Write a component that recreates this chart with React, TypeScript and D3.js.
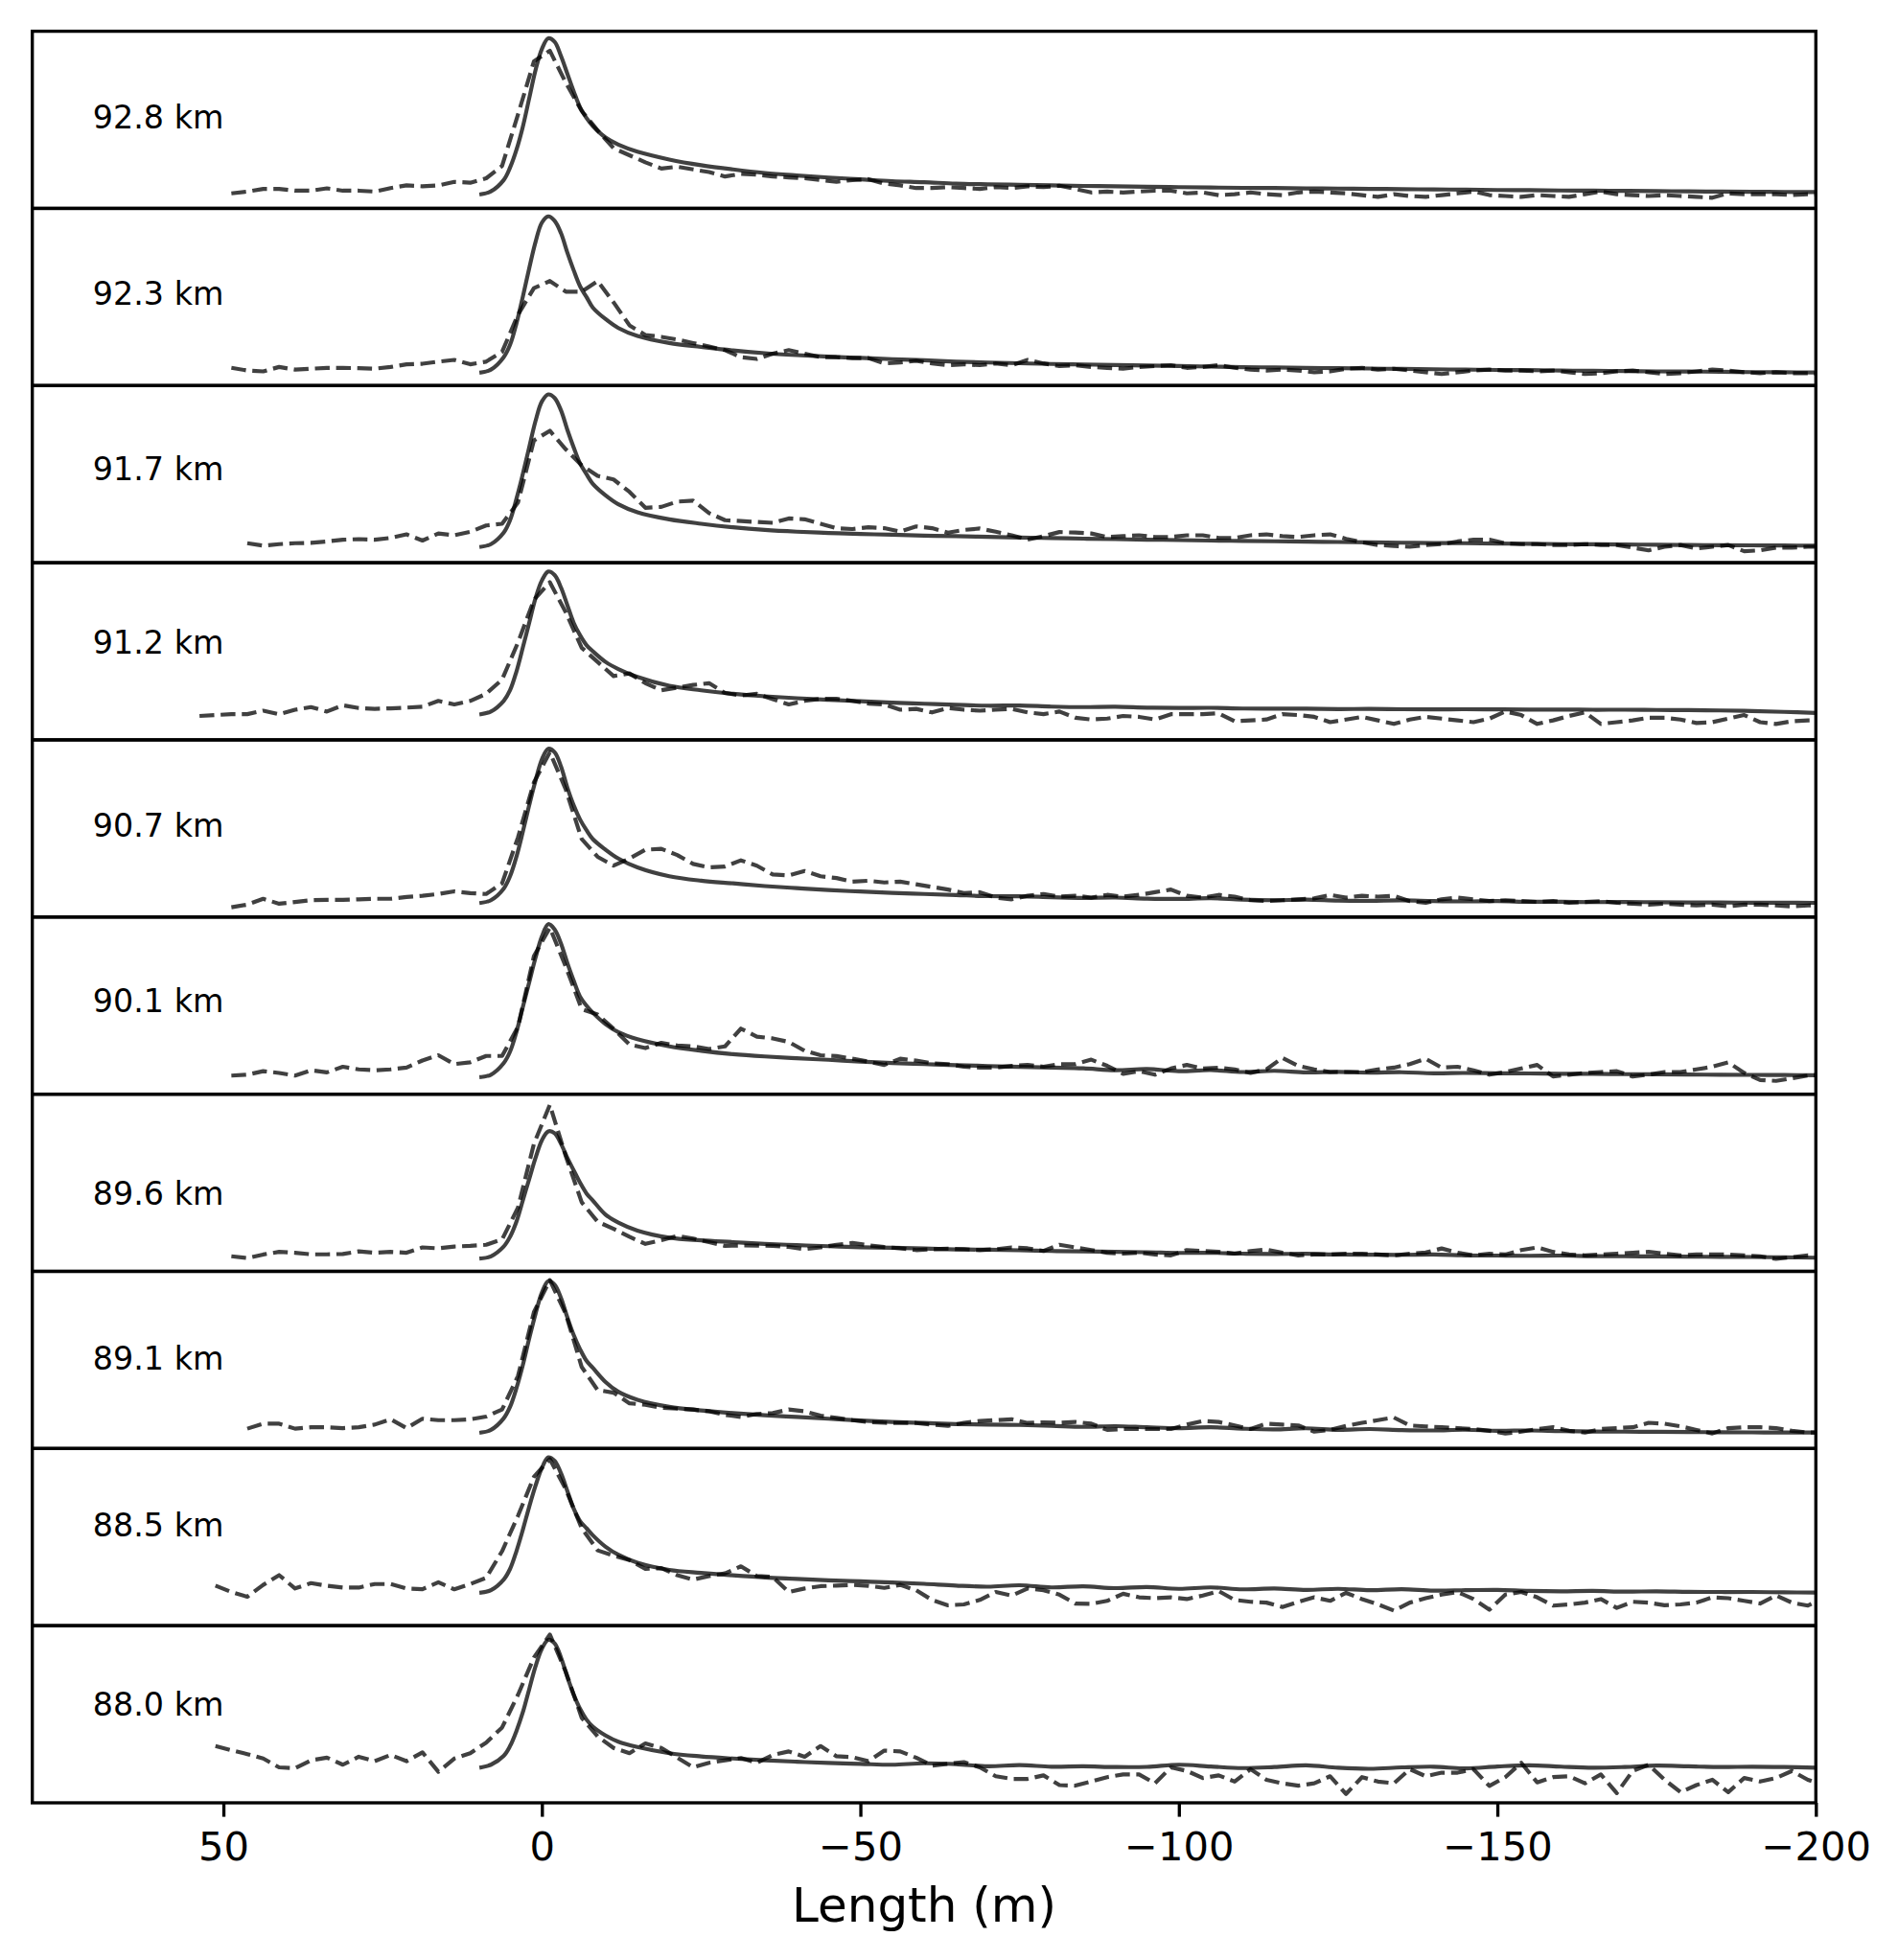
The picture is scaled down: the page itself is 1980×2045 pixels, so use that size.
import * as d3 from "d3";
import {useRef, useEffect} from "react";

// altitude of each profile, top to bottom
const altitudes = ["92.8 km", "92.3 km", "91.7 km", "91.2 km", "90.7 km", "90.1 km", "89.6 km", "89.1 km", "88.5 km", "88.0 km"];
// data-space height of the altitude annotation (relative intensity, %)
const labelLevel = [45.4, 45.4, 46.4, 48.9, 45.6, 46.4, 37.4, 44.4, 50.4, 49.4];
const labelX = 70.5;
const xTicks = [50, 0, -50, -100, -150, -200];

// model (solid) sampled positions, metres
const modelX = [9.5, 8, 6, 5, 4, 3, 2, 1, 0, -1, -2, -3, -4, -5, -6, -7, -8, -10, -12, -15]
    .concat(d3.range(-20, -201, -5));
// observed (dashed) sampled positions, metres
const obsX = d3.range(53.75, -202, -2.5);

const model928 = [8, 9.6, 16, 23, 33, 46, 62, 78, 90, 96, 94, 86, 76, 66, 57, 51, 46.5, 40, 36, 32,
    27.6, 24.4, 22, 20, 18.6, 17.4, 16.4, 15.4, 14.8, 14,
    13.6, 13.3, 13, 12.7, 12.5, 12.2, 12, 11.8, 11.6, 11.5,
    11.3, 11.2, 11, 10.9, 10.7, 10.6, 10.4, 10.3, 10.1, 10,
    9.9, 9.8, 9.6, 9.5, 9.4, 9.3, 9.2];
const model923 = [7.4, 9, 16, 23, 35, 50, 66, 81, 92, 95.5, 93, 86, 75, 65, 56, 50, 44, 37.5, 32.5, 28,
    24, 21.8, 19.8, 18.3, 17.2, 16.3, 15.6, 14.9, 14.3, 13.5,
    13, 12.6, 12.2, 11.9, 11.6, 11.3, 11, 10.7, 10.4, 10.2,
    10, 9.8, 9.6, 9.4, 9.2, 9, 8.8, 8.7, 8.5, 8.3,
    8.2, 8, 7.9, 7.8, 7.6, 7.5, 7.4];
const model917 = [9, 10.5, 17, 24, 36, 50, 65, 80, 91, 95, 93, 86, 75, 65, 56, 50, 44.5, 38, 33, 28.5,
    24.5, 22, 20, 18.5, 17.5, 16.8, 16.2, 15.8, 15.3, 15,
    14.6, 14.2, 13.9, 13.6, 13.3, 13, 12.8, 12.5, 12.3, 12.1,
    11.9, 11.7, 11.5, 11.3, 11.1, 11, 10.8, 10.7, 10.5, 10.4,
    10.3, 10.1, 10, 9.9, 9.8, 9.7, 9.6];
const model912 = [14.5, 16, 22, 28, 38.5, 52, 66, 80, 90, 95, 93, 86, 76, 66, 59, 53.5, 50, 44, 40, 35.5,
    30.5, 28, 26, 24.6, 23.5, 22.6, 21.8, 21, 20.4, 19.8,
    19.3, 19.4, 18.8, 18.5, 18.7, 18.2, 18, 18.1, 17.7, 17.6,
    17.6, 17.4, 17.5, 17.3, 17.2, 17.3, 17.2, 17.1, 17.1, 17,
    17, 16.9, 16.8, 16.6, 16.3, 15.8, 15.2];
const model907 = [8, 9.5, 16, 23, 34, 48, 63, 77, 89, 95, 93, 85, 73, 63, 55, 49, 44, 38, 33, 28,
    23, 20.5, 19, 17.5, 16.3, 15.2, 14.4, 13.6, 13, 12.4,
    11.8, 11.7, 11.2, 10.8, 11, 10.4, 10.2, 10.6, 9.8, 9.5,
    9.8, 9.3, 9.2, 9.4, 9, 8.8, 9, 8.6, 8.6, 8.4,
    8.5, 8.3, 8.2, 8.2, 8.1, 8.1, 8];
const model901 = [9.7, 11, 17.5, 24, 35, 49, 63, 77, 89, 96, 93, 85, 74, 64, 55, 50, 46, 39.5, 35, 31,
    27, 24.5, 22.6, 21.3, 20.3, 19.4, 18.4, 17.6, 17, 16.4,
    15.9, 15.4, 15, 14.6, 13.5, 14.2, 13, 13.6, 12.5, 13.2,
    12.3, 12.6, 12.2, 12.4, 11.8, 12, 11.8, 11.7, 11.5, 11.5,
    11.3, 11.2, 11.1, 11, 10.9, 10.8, 10.7];
const model896 = [7.3, 8.5, 14, 19.5, 28, 40, 52, 64, 74, 79, 78, 72, 64, 57, 50, 44, 40, 32, 27.5, 23,
    19, 17.5, 16.5, 15.5, 14.8, 14.2, 13.6, 13.3, 12.9, 12.4,
    12.2, 11.9, 11.5, 11.3, 11, 10.8, 10.4, 10.5, 10, 9.8,
    9.9, 9.5, 9.4, 9.3, 9.5, 9, 8.9, 8.8, 8.9, 8.6,
    8.5, 8.4, 8.3, 8.2, 8.1, 7.9, 7.7];
const model891 = [9, 10.5, 17, 23.5, 34, 47, 62, 76, 88, 94.5, 92.5, 85, 74, 64, 56, 49.5, 45.5, 37.5, 32, 27.5,
    23.5, 21.5, 20, 18.8, 17.8, 16.8, 15.8, 15, 14.4, 13.8,
    13.5, 13.3, 12.8, 12.2, 12.6, 12, 11.5, 12, 11.2, 10.8,
    11.4, 10.5, 11, 10.4, 10.2, 10.6, 10, 10.2, 9.8, 9.6,
    9.5, 9.4, 9.3, 9.2, 9.1, 9, 9];
const model885 = [18.7, 20, 26, 32, 42, 54, 67, 79, 89, 95, 93, 86, 76, 66, 59, 55, 51, 44.5, 40, 35.5,
    31.5, 29.8, 28.4, 27.2, 26.4, 25.6, 25, 24.4, 23.6, 22.6,
    22, 22.8, 21.6, 22.2, 21.2, 21.8, 20.8, 21.6, 20.5, 21,
    20.2, 20.8, 20, 20.6, 19.8, 20, 20.2, 19.6, 19.4, 19.6,
    19.2, 19.4, 19.1, 19, 19, 18.8, 18.7];
const model880 = [20, 21.5, 26.5, 32, 40.5, 51, 64, 77, 87, 92, 90, 82, 71, 61, 53, 47, 43, 38, 34.5, 31.5,
    28, 26.2, 25, 24, 23.2, 22.5, 22, 21.5, 22.3, 21.8,
    20.6, 21.3, 20.4, 20.6, 20.2, 20.3, 21.5, 20.5, 19.6, 20.2,
    21.2, 19.8, 19.2, 20, 20.4, 19.4, 20.5, 21.2, 20.4, 19.8,
    20.2, 21, 20.6, 20.2, 20.4, 20.2, 19.8];

const obs928 = [
    null, null, 8.5, 9.5, 11, 11, 10, 10, 11.3, 10,
    10, 9.5, 11.5, 13, 12.5, 13, 15, 14.5, 17, 24,
    53, 83, 89, 71, 55, 44, 34, 30, 26, 22.5,
    23.5, 22, 20.5, 18, 19.5, 19, 18, 17.5, 17, 16,
    15, 16, 16.5, 14, 13, 11.5, 11.5, 12, 11.5, 11,
    12, 11.5, 12.5, 12, 12.8, 11, 9, 9.5, 9, 9.5,
    10, 10, 8.5, 9, 7.5, 8, 9, 8, 7.5, 9,
    9.5, 9, 8.5, 7.5, 6.5, 8, 7, 6.5, 7.5, 8.5,
    9.5, 7.5, 7, 6.5, 7.5, 7, 6.5, 8, 9.5, 8,
    7.5, 7, 7.5, 7, 6.5, 6, 8.5, 8, 8, 8,
    7.5, 8, 8];
const obs923 = [
    null, null, 10, 8.5, 8, 10.5, 9, 9.5, 10, 10,
    9.8, 9.5, 10.5, 12, 12.3, 13.5, 14.5, 12, 13.5, 19,
    40, 55, 59, 53, 53, 59, 47, 34, 28.5, 27.5,
    26, 24, 22, 20, 16, 15, 18, 20, 18, 16,
    16, 15.5, 15.5, 12.5, 13, 14, 12.5, 11.5, 12, 11.5,
    12.5, 11.5, 14.5, 12.5, 11, 11.5, 10.5, 10, 9.5, 10.5,
    11, 11.5, 10, 10.5, 11.5, 10, 9, 8.5, 9, 8.5,
    7.5, 8, 9.5, 10, 9, 9.5, 8.5, 7.5, 6.5, 7.5,
    8.5, 9, 8.5, 8.5, 8, 8.5, 7.5, 6.5, 7, 8,
    8.5, 7.5, 6.5, 7, 8, 9, 8.5, 7.5, 7, 7.5,
    7, 7, 6.5];
const obs917 = [
    null, null, null, 11, 9.6, 10.5, 11, 11.2, 12, 13,
    13.3, 13, 14, 16, 12.5, 16.5, 15.5, 17.5, 21, 22,
    34, 69, 74.5, 64, 55, 49, 47, 40, 31, 31.5,
    34.5, 35, 28, 24, 23.5, 23, 22.5, 25, 24.5, 22,
    19.5, 19, 20, 19.5, 17.6, 20.5, 19.5, 17, 18.5, 19.3,
    17.5, 15.5, 13, 15, 17.3, 17, 16.5, 14.5, 15, 15.5,
    14.5, 14.5, 15.5, 15.5, 14, 14, 15.5, 16, 15, 14.5,
    15.5, 16, 13.5, 11.5, 10, 9.5, 9, 10, 10.5, 12,
    13, 13, 11, 10.5, 10.5, 10, 10, 10.5, 10, 10,
    8.5, 7, 9, 10, 8, 9, 10, 6.5, 7, 8.5,
    8.5, 9, 9];
const obs912 = [
    13.5, 14, 14.5, 14.5, 16.5, 14.5, 17, 18.5, 16, 19.5,
    18, 17.5, 17.8, 18.2, 18.7, 22, 20, 22, 26, 34,
    55, 79, 89, 72, 52, 44, 36, 37.5, 32, 28,
    29.5, 31, 32, 26.5, 25, 26, 23, 20, 22, 23.2,
    23.2, 22, 20.5, 20, 17, 17.5, 15.5, 18, 17, 16.5,
    17, 17.5, 15.5, 14.5, 16, 12.5, 11.5, 12, 13.5, 13,
    11.5, 14.5, 14.5, 14.5, 15, 10.5, 11, 11.5, 14.5, 14,
    13, 10, 11.5, 13, 11, 9, 11.5, 13, 12, 11,
    10, 12, 16, 14, 9, 11, 13.5, 15.5, 9, 10,
    11, 12.5, 12.5, 11.5, 9.5, 10, 12, 14, 10, 9,
    10.5, 11, 11];
const obs907 = [
    null, null, 5.5, 7, 10.3, 7.5, 8.5, 9.5, 9.7, 9.7,
    10, 10.3, 10.3, 11.3, 12, 13, 14.5, 13.5, 13, 19,
    45, 76, 93, 72, 44, 34, 29, 33, 38, 38.5,
    35, 30, 28, 28.5, 32, 29, 24, 23.5, 26, 23,
    22, 20, 20.5, 19.5, 20, 18.5, 17, 15.5, 13.5, 14,
    11, 10, 12, 13, 11.5, 12, 11, 12.5, 11.5, 12.5,
    14, 15.5, 12, 11, 12.5, 11.5, 9.5, 9, 9.5, 10,
    10.5, 12.5, 11, 12, 11.5, 12, 9, 8, 10, 11,
    10, 9, 9.5, 9, 8.5, 9, 8, 8.5, 9, 8,
    7.5, 7, 7.5, 7, 6.5, 7, 6, 7, 7, 6.5,
    6, 6.5, 7];
const obs901 = [
    null, null, 10.5, 11, 13, 12, 10.5, 13.5, 12.3, 15.5,
    14, 13.5, 14, 15, 19, 22, 17, 18, 21.6, 21.6,
    38, 78, 94, 72, 48, 45, 37, 28, 26, 29,
    27.5, 27, 25.5, 27, 37, 32.5, 31.5, 29.5, 24.5, 22,
    21.5, 20, 18.4, 16.5, 20, 19, 17.5, 17, 15.5, 15,
    15, 16, 16.5, 15.5, 17, 17, 19.5, 16, 11.5, 13,
    11, 14.5, 16.5, 14.5, 15, 14, 12, 14, 20.5, 16,
    14, 12.5, 12.5, 12.5, 14, 15, 17, 20, 15, 15.5,
    13.5, 11, 12.5, 14.5, 16.5, 10, 11, 12, 12.5, 13,
    10, 11, 12.5, 12.5, 14, 15.5, 18, 12, 8, 7.5,
    9, 10.5, 11];
const obs896 = [
    null, null, 8.5, 7.5, 9.5, 11, 10.5, 9.6, 9.6, 9.8,
    11.3, 10.5, 11, 10.5, 13.5, 13, 14, 14.4, 15, 18,
    36, 72, 94, 65, 39, 28, 24, 19.5, 15.5, 17.6,
    20, 18.5, 16.5, 14.4, 14.6, 14.5, 14.4, 13.8, 12.5, 13.5,
    15, 16, 14.7, 13.7, 13, 12, 12.5, 12.8, 12.5, 12,
    12.5, 13.5, 13, 11.5, 15, 13.5, 12, 10.5, 10, 10.5,
    9.5, 9, 12, 11.5, 11, 10, 11.5, 12.3, 10.5, 9,
    9.5, 9.5, 10, 10, 9.5, 9, 10, 10.6, 12.9, 10.5,
    9, 10, 9.5, 12, 13.5, 11, 9.5, 9, 9.5, 10,
    10.5, 11, 10, 9, 9.5, 9.5, 9.5, 9, 8.5, 7,
    8, 9, 9];
const obs891 = [
    null, null, null, 11.2, 14, 14, 11.2, 12, 12, 11.5,
    12, 13.5, 16.5, 11.5, 16.8, 16, 16, 16.5, 18, 22,
    41, 77, 95, 76, 46, 33, 31.5, 25.5, 24.7, 23,
    22.5, 22, 21, 19, 17.8, 19.5, 20, 22, 21, 18.5,
    17.3, 16, 15, 14.5, 14.4, 14.4, 13.5, 12.8, 14.5, 15.5,
    16, 16.5, 14.4, 14.8, 14.5, 15, 14, 10.5, 11, 11,
    11, 11, 13.5, 15.5, 15, 13, 11, 14, 13.5, 13,
    9.5, 10.5, 12.8, 14.5, 16, 17.5, 13, 12.5, 12, 11.5,
    11, 10, 8.5, 9.5, 11, 12, 10, 9, 11, 11.5,
    12, 14.5, 14, 12.5, 10.5, 8.5, 11.5, 12, 12, 11.5,
    10, 9, 9];
const obs885 = [
    null, 22.6, 19, 16.3, 23, 28.5, 21, 24, 22.5, 21.5,
    21.5, 23.5, 23.5, 21, 20.6, 24.5, 20.5, 23.5, 27, 42,
    62, 84, 94, 77, 55, 42.5, 39.5, 37, 32, 32.5,
    28.5, 26, 28, 29.5, 33.5, 28, 27.5, 19, 21, 22.3,
    22.6, 23, 22.5, 21.3, 23, 20, 14.5, 11.5, 12, 14.5,
    19, 17, 21, 20, 17.5, 12.5, 12.3, 14, 18, 16,
    15.5, 16, 15, 17, 19.5, 14.5, 13.5, 13, 10.5, 13.5,
    16, 14, 18.5, 15, 12, 8.5, 13, 15.5, 17.5, 19,
    15, 9, 17.5, 19, 16, 11.3, 12, 13, 15, 10,
    13.5, 13, 11.5, 12, 13, 16, 15.5, 14, 12.5, 17,
    13, 11.3, 16];
const obs880 = [
    null, 32, 29.7, 27.5, 25, 20, 19.5, 24, 25.5, 21.5,
    26, 23.5, 27, 23.5, 28.5, 17.5, 25, 28, 34, 42.5,
    61, 82, 95, 74, 48, 37.5, 31, 28, 33.5, 31,
    25.5, 20, 22.6, 24, 25.3, 22.6, 27, 29, 26, 32,
    26.3, 25.8, 23.5, 29.5, 29, 25.5, 21, 22, 23, 20,
    15, 13.5, 13.5, 15.5, 10, 9.7, 12, 14.5, 16, 16,
    11, 20, 18, 14, 15.5, 12, 19, 13, 11, 9.7,
    11, 15, 5, 14.5, 12, 11, 19, 15, 17, 17,
    19, 9.5, 14.5, 22.6, 11.5, 14.5, 15, 11, 16, 5.5,
    18, 21.5, 13, 6, 10, 13, 6, 14, 12, 14,
    18, 13, 10];

const models = [model928, model923, model917, model912, model907, model901, model896, model891, model885, model880];
const observed = [obs928, obs923, obs917, obs912, obs907, obs901, obs896, obs891, obs885, obs880];

export default function App() {
    const svgRef = useRef(null);
    const W = 1980, H = 2045;
    const margin = {top: 32.6, right: 1980 - 1894.3, bottom: 2045 - 1881, left: 33.7};
    const innerW = W - margin.left - margin.right;
    const innerH = H - margin.top - margin.bottom;
    const ph = innerH / altitudes.length;
    const pt = 300 / 72;

    useEffect(() => {
        const svg = d3.select(svgRef.current);
        svg.selectAll("*").remove();
        svg.append("rect").attr("width", W).attr("height", H).attr("fill", "white");

        const g = svg.append("g").attr("transform", `translate(${margin.left},${margin.top})`);

        const x = d3.scaleLinear().domain([80, -200]).range([0, innerW]);

        altitudes.forEach((label, k) => {
            const y = d3.scaleLinear().domain([0, 100]).range([ph * (k + 1), ph * k]);
            const clipId = `clip-${k}`;
            g.append("clipPath").attr("id", clipId)
                .append("rect").attr("x", 0).attr("y", ph * k).attr("width", innerW).attr("height", ph);

            const panel = g.append("g").attr("clip-path", `url(#${clipId})`);

            const modelLine = d3.line<[number, number]>()
                .x(d => x(d[0]))
                .y(d => y(d[1]))
                .curve(d3.curveCatmullRom.alpha(0.5));
            const obsLine = d3.line<[number, number | null]>()
                .defined(d => d[1] != null)
                .x(d => x(d[0]))
                .y(d => y(d[1] as number));

            panel.append("path")
                .datum(modelX.map((v, i) => [v, models[k][i]] as [number, number]))
                .attr("fill", "none")
                .attr("stroke", "black")
                .attr("stroke-opacity", 0.75)
                .attr("stroke-width", 1 * pt)
                .attr("stroke-linejoin", "round")
                .attr("stroke-linecap", "square")
                .attr("d", modelLine);

            panel.append("path")
                .datum(obsX.map((v, i) => [v, observed[k][i]] as [number, number | null]))
                .attr("fill", "none")
                .attr("stroke", "black")
                .attr("stroke-opacity", 0.75)
                .attr("stroke-width", 1 * pt)
                .attr("stroke-linejoin", "round")
                .attr("stroke-dasharray", `${3.7 * pt},${1.6 * pt}`)
                .attr("d", obsLine);

            // frame
            g.append("rect")
                .attr("x", 0).attr("y", ph * k)
                .attr("width", innerW).attr("height", ph)
                .attr("fill", "none")
                .attr("stroke", "black")
                .attr("stroke-width", 0.8 * pt);

            g.append("text")
                .attr("x", x(labelX))
                .attr("y", y(labelLevel[k]))
                .attr("font-family", "DejaVu Sans")
                .attr("font-size", 8 * pt)
                .attr("fill", "black")
                .text(label);
        });

        // bottom axis
        const axis = g.append("g")
            .attr("transform", `translate(0,${innerH})`)
            .call(d3.axisBottom(x)
                .tickValues(xTicks)
                .tickSize(3.5 * pt)
                .tickPadding(3.5 * pt + 1)
                .tickFormat(d => (+d < 0 ? "\u2212" + Math.abs(+d) : String(d))));
        axis.select(".domain").remove();
        axis.selectAll(".tick line").attr("stroke", "black").attr("stroke-width", 0.8 * pt);
        axis.selectAll(".tick text")
            .attr("fill", "black")
            .attr("font-family", "DejaVu Sans")
            .attr("font-size", 10 * pt);

        g.append("text")
            .attr("x", innerW / 2)
            .attr("y", 2005 - margin.top)
            .attr("text-anchor", "middle")
            .attr("font-family", "DejaVu Sans")
            .attr("font-size", 12 * pt)
            .attr("fill", "black")
            .text("Length (m)");
    }, []);

    return (
        <>
            <style>{"body{margin:0}"}</style>
            <svg ref={svgRef} width={W} height={H} style={{display: "block"}} />
        </>
    );
}
